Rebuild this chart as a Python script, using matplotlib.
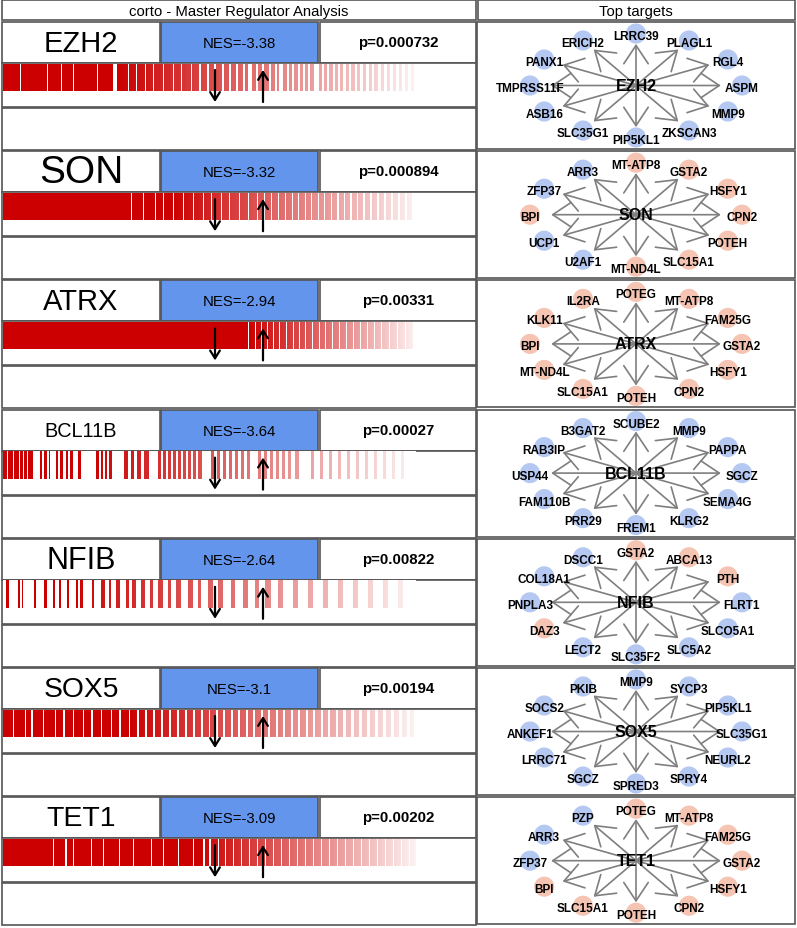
import numpy as np
import matplotlib.pyplot as plt
from matplotlib.patches import Rectangle
from matplotlib.colors import LinearSegmentedColormap

plt.rcParams['font.family'] = ['Liberation Sans', 'DejaVu Sans']

# Master regulators and their statistics
regulators = ["EZH2", "SON", "ATRX", "BCL11B", "NFIB", "SOX5", "TET1"]
nes_values = [-3.38, -3.32, -2.94, -3.64, -2.64, -3.1, -3.09]
p_values = ["0.000732", "0.000894", "0.00331", "0.00027", "0.00822", "0.00194", "0.00202"]

# Top targets, clockwise starting from the top node
targets_ezh2 = ["LRRC39", "PLAGL1", "RGL4", "ASPM", "MMP9", "ZKSCAN3", "PIP5KL1",
                "SLC35G1", "ASB16", "TMPRSS11F", "PANX1", "ERICH2"]
targets_son = ["MT-ATP8", "GSTA2", "HSFY1", "CPN2", "POTEH", "SLC15A1", "MT-ND4L",
               "U2AF1", "UCP1", "BPI", "ZFP37", "ARR3"]
targets_atrx = ["POTEG", "MT-ATP8", "FAM25G", "GSTA2", "HSFY1", "CPN2", "POTEH",
                "SLC15A1", "MT-ND4L", "BPI", "KLK11", "IL2RA"]
targets_bcl11b = ["SCUBE2", "MMP9", "PAPPA", "SGCZ", "SEMA4G", "KLRG2", "FREM1",
                  "PRR29", "FAM110B", "USP44", "RAB3IP", "B3GAT2"]
targets_nfib = ["GSTA2", "ABCA13", "PTH", "FLRT1", "SLCO5A1", "SLC5A2", "SLC35F2",
                "LECT2", "DAZ3", "PNPLA3", "COL18A1", "DSCC1"]
targets_sox5 = ["MMP9", "SYCP3", "PIP5KL1", "SLC35G1", "NEURL2", "SPRY4", "SPRED3",
                "SGCZ", "LRRC71", "ANKEF1", "SOCS2", "PKIB"]
targets_tet1 = ["POTEG", "MT-ATP8", "FAM25G", "GSTA2", "HSFY1", "CPN2", "POTEH",
                "SLC15A1", "BPI", "ZFP37", "ARR3", "PZP"]

# Mode of regulation for each target (-1 = repressed / blue, 1 = activated / red)
modes_ezh2 = [-1, -1, -1, -1, -1, -1, -1, -1, -1, -1, -1, -1]
modes_son = [1, 1, 1, 1, 1, 1, 1, -1, -1, 1, -1, -1]
modes_atrx = [1, 1, 1, 1, 1, 1, 1, 1, 1, 1, 1, 1]
modes_bcl11b = [-1, -1, -1, -1, -1, -1, -1, -1, -1, -1, -1, -1]
modes_nfib = [1, 1, 1, -1, -1, -1, -1, -1, 1, -1, -1, -1]
modes_sox5 = [-1, -1, -1, -1, -1, -1, -1, -1, -1, -1, -1, -1]
modes_tet1 = [1, 1, 1, 1, 1, 1, 1, 1, 1, -1, -1, -1]

# Barcode: rank ranges covered by targets in the signature (signature length 413)
barcode_ezh2 = [(0, 17), (18, 44), (45, 58), (59, 70), (71, 94), (95, 110), (114, 125),
                (126, 133), (134, 142), (143, 150), (151, 160), (161, 170), (171, 178),
                (179, 188), (189, 196), (198, 204), (206, 211), (213, 219), (221, 226),
                (228, 233), (235, 240), (242, 245), (249, 253), (255, 259), (261, 266),
                (268, 272), (274, 276), (280, 284), (286, 289), (291, 295), (297, 300),
                (302, 305), (307, 311), (316, 319), (321, 324), (326, 330), (332, 335),
                (337, 340), (343, 346), (348, 352), (354, 357), (360, 363), (366, 369),
                (371, 375), (378, 381), (384, 387), (390, 393), (396, 399), (402, 405),
                (408, 411)]
barcode_son = [(0, 128), (129, 140), (141, 152), (153, 160), (161, 170), (171, 180),
               (181, 190), (191, 200), (201, 208), (209, 218), (219, 226), (227, 236),
               (237, 245), (246, 254), (255, 261), (262, 268), (269, 275), (276, 282),
               (283, 289), (290, 295), (296, 302), (303, 308), (309, 315), (316, 321),
               (322, 328), (329, 334), (336, 341), (342, 347), (349, 354), (355, 360),
               (362, 367), (369, 374), (376, 381), (383, 388), (390, 395), (397, 402),
               (404, 409)]
barcode_atrx = [(0, 245), (246, 252), (253, 258), (259, 264), (265, 270), (271, 276),
                (277, 283), (284, 290), (291, 296), (297, 302), (303, 309), (310, 316),
                (317, 322), (323, 329), (330, 336), (337, 343), (344, 350), (351, 357),
                (358, 364), (365, 371), (372, 378), (379, 386), (387, 394), (395, 402),
                (403, 410)]
barcode_bcl11b = [(0, 4), (5, 10), (11, 16), (17, 20), (21, 24), (25, 30), (37, 39),
                  (41, 44), (46, 47), (53, 55), (57, 60), (63, 65), (67, 70), (75, 78),
                  (93, 96), (98, 100), (102, 104), (106, 109), (121, 125), (128, 131),
                  (134, 138), (141, 146), (155, 158), (160, 163), (165, 168), (170, 173),
                  (175, 178), (180, 183), (185, 188), (190, 193), (195, 199), (208, 211),
                  (214, 217), (220, 223), (226, 229), (232, 235), (238, 241), (244, 247),
                  (255, 258), (261, 264), (267, 270), (273, 276), (279, 282), (285, 288),
                  (292, 296), (308, 311), (317, 320), (326, 329), (335, 338), (344, 347),
                  (353, 356), (362, 365), (371, 374), (380, 383), (389, 392), (398, 401)]
barcode_nfib = [(3, 6), (15, 17), (19, 20), (31, 33), (41, 44), (50, 52), (56, 58), (64, 66),
                (73, 75), (77, 80), (89, 91), (98, 102), (106, 108), (113, 117), (123, 126),
                (129, 133), (138, 142), (147, 150), (155, 160), (165, 168), (173, 178),
                (185, 190), (195, 198), (205, 210), (215, 220), (228, 232), (240, 245),
                (252, 256), (262, 268), (275, 280), (290, 295), (305, 310), (320, 325),
                (335, 340), (350, 355), (365, 370), (380, 385), (395, 400)]
barcode_sox5 = [(0, 10), (11, 22), (23, 28), (30, 40), (41, 52), (53, 60), (62, 70),
                (71, 80), (81, 88), (90, 98), (99, 108), (109, 116), (118, 126), (127, 134),
                (136, 142), (144, 150), (152, 158), (160, 166), (168, 174), (176, 182),
                (184, 190), (192, 198), (200, 206), (207, 213), (215, 220), (222, 228),
                (230, 235), (237, 243), (245, 250), (252, 258), (260, 265), (267, 273),
                (275, 280), (282, 288), (290, 295), (297, 303), (305, 310), (312, 318),
                (320, 325), (327, 333), (335, 340), (343, 348), (351, 356), (359, 364),
                (367, 372), (375, 380), (383, 388), (391, 396), (399, 404), (407, 411)]
barcode_tet1 = [(0, 50), (51, 62), (64, 70), (71, 88), (89, 100), (101, 116), (117, 130),
                (131, 148), (149, 160), (161, 175), (176, 190), (191, 200), (202, 206),
                (208, 215), (216, 222), (223, 230), (231, 238), (239, 246), (247, 254),
                (255, 262), (263, 270), (271, 278), (279, 286), (287, 294), (295, 302),
                (303, 310), (311, 318), (319, 326), (327, 334), (335, 342), (343, 350),
                (351, 358), (359, 366), (367, 374), (375, 382), (383, 390), (391, 398),
                (399, 406), (407, 413)]

# Rank where the barcode colour starts to fade towards white
fade_start = [115, 170, 245, 90, 70, 125, 195]

targets = [targets_ezh2, targets_son, targets_atrx, targets_bcl11b, targets_nfib,
           targets_sox5, targets_tet1]
modes = [modes_ezh2, modes_son, modes_atrx, modes_bcl11b, modes_nfib, modes_sox5, modes_tet1]
barcodes = [barcode_ezh2, barcode_son, barcode_atrx, barcode_bcl11b, barcode_nfib,
            barcode_sox5, barcode_tet1]

# Font size of the regulator name in the left box (fitted to the box)
name_sizes = {"EZH2": 21, "SON": 28, "ATRX": 21, "BCL11B": 14.3, "NFIB": 22, "SOX5": 20.3,
              "TET1": 20.5}

W, H = 797, 929
fig = plt.figure(figsize=(W / 100, H / 100), dpi=100)
ax = fig.add_axes([0, 0, 1, 1])
ax.set_xlim(0, W)
ax.set_ylim(H, 0)
ax.axis("off")

edge = "#555555"


def box(x0, y0, x1, y1, fc="white"):
    ax.add_patch(Rectangle((x0, y0), x1 - x0, y1 - y0, facecolor=fc, edgecolor=edge, lw=1.2))


def sub_axes(x0, y0, x1, y1):
    return fig.add_axes([x0 / W, 1 - y1 / H, (x1 - x0) / W, (y1 - y0) / H])


# Header boxes
box(2, 1, 476, 21)
ax.text(239, 11.5, "corto - Master Regulator Analysis", ha="center", va="center", fontsize=10.7)
box(478, 1, 795, 21)
ax.text(636, 11.5, "Top targets", ha="center", va="center", fontsize=10.7)

# Barcode colour fades from red to white along the signature
fade = LinearSegmentedColormap.from_list("fade", ["#CC0000", "#FFFFFF"])
sig_len = 413
ranks = np.arange(sig_len)

node_colors = {-1: "#B4C8F2", 1: "#F6C4B2"}
rx, ry = 106, 52
pitch = 129.2
row_tops = []

for i, reg in enumerate(regulators):
    y0 = 23 + i * pitch
    row_tops.append(y0)

    # Name / NES / p-value row
    box(2, y0, 160, y0 + 41)
    ax.text(81, y0 + 21, reg, ha="center", va="center", fontsize=name_sizes[reg])
    box(161, y0, 318, y0 + 41, fc="#6495ED")
    ax.text(239.5, y0 + 21, "NES=" + str(nes_values[i]), ha="center", va="center", fontsize=10.7)
    box(320, y0, 476, y0 + 41)
    ax.text(398, y0 + 20, "p=" + p_values[i], ha="center", va="center", fontsize=10.8,
            fontweight="bold")

    # Barcode panel
    box(2, y0 + 41, 476, y0 + 85)
    box(2, y0 + 86, 476, y0 + 128)
    mask = np.zeros(sig_len)
    for a, b in barcodes[i]:
        mask[a:b] = 1
    t = np.clip((ranks - fade_start[i]) / (sig_len - fade_start[i]), 0, 1) * 0.95
    rgb = fade(t)[:, :3]
    rgb[mask == 0] = 1.0
    bax = sub_axes(2.6, y0 + 41.6, 415, y0 + 69)
    bax.imshow(rgb[np.newaxis, :, :], aspect="auto", extent=[0, sig_len, 0, 1],
               interpolation="nearest")
    bax.set_xlim(0, sig_len)
    bax.axis("off")

    # Network of top targets
    box(477, y0, 795, y0 + 127)
    nax = sub_axes(477, y0, 795, y0 + 127)
    nax.set_xlim(-159 / rx, 159 / rx)
    nax.set_ylim(-63.5 / ry, 63.5 / ry)
    nax.axis("off")
    n = len(targets[i])
    ang = np.pi / 2 - 2 * np.pi * np.arange(n) / n
    xs, ys = np.cos(ang), np.sin(ang)
    nax.scatter(xs, ys, s=210, c=[node_colors[m] for m in modes[i]], zorder=1, linewidths=0)
    for k in range(n):
        nax.annotate("", xy=(0.8 * xs[k], 0.8 * ys[k]), xytext=(0, 0),
                     arrowprops=dict(arrowstyle="->,head_length=0.6,head_width=0.4",
                                     color="#7f7f7f", lw=1.2, mutation_scale=22,
                                     shrinkA=0, shrinkB=0), zorder=2)
        nax.text(xs[k], ys[k] - 0.05, targets[i][k], ha="center", va="center",
                 fontsize=8.5, fontweight="bold", zorder=3)
    nax.text(0, 0, reg, ha="center", va="center", fontsize=11.5, fontweight="bold", zorder=3)

# Arrows over the barcodes
top = fig.add_axes([0, 0, 1, 1])
top.set_xlim(0, W)
top.set_ylim(H, 0)
top.axis("off")
for y0 in row_tops:
    top.annotate("", xy=(215, y0 + 80), xytext=(215, y0 + 48),
                 arrowprops=dict(arrowstyle="->,head_length=0.4,head_width=0.25", color="black",
                                 lw=1.6, mutation_scale=14, shrinkA=0, shrinkB=0))
    top.annotate("", xy=(263, y0 + 48), xytext=(263, y0 + 80),
                 arrowprops=dict(arrowstyle="->,head_length=0.4,head_width=0.25", color="black",
                                 lw=1.6, mutation_scale=14, shrinkA=0, shrinkB=0))

fig.savefig("out.png", dpi=100)
